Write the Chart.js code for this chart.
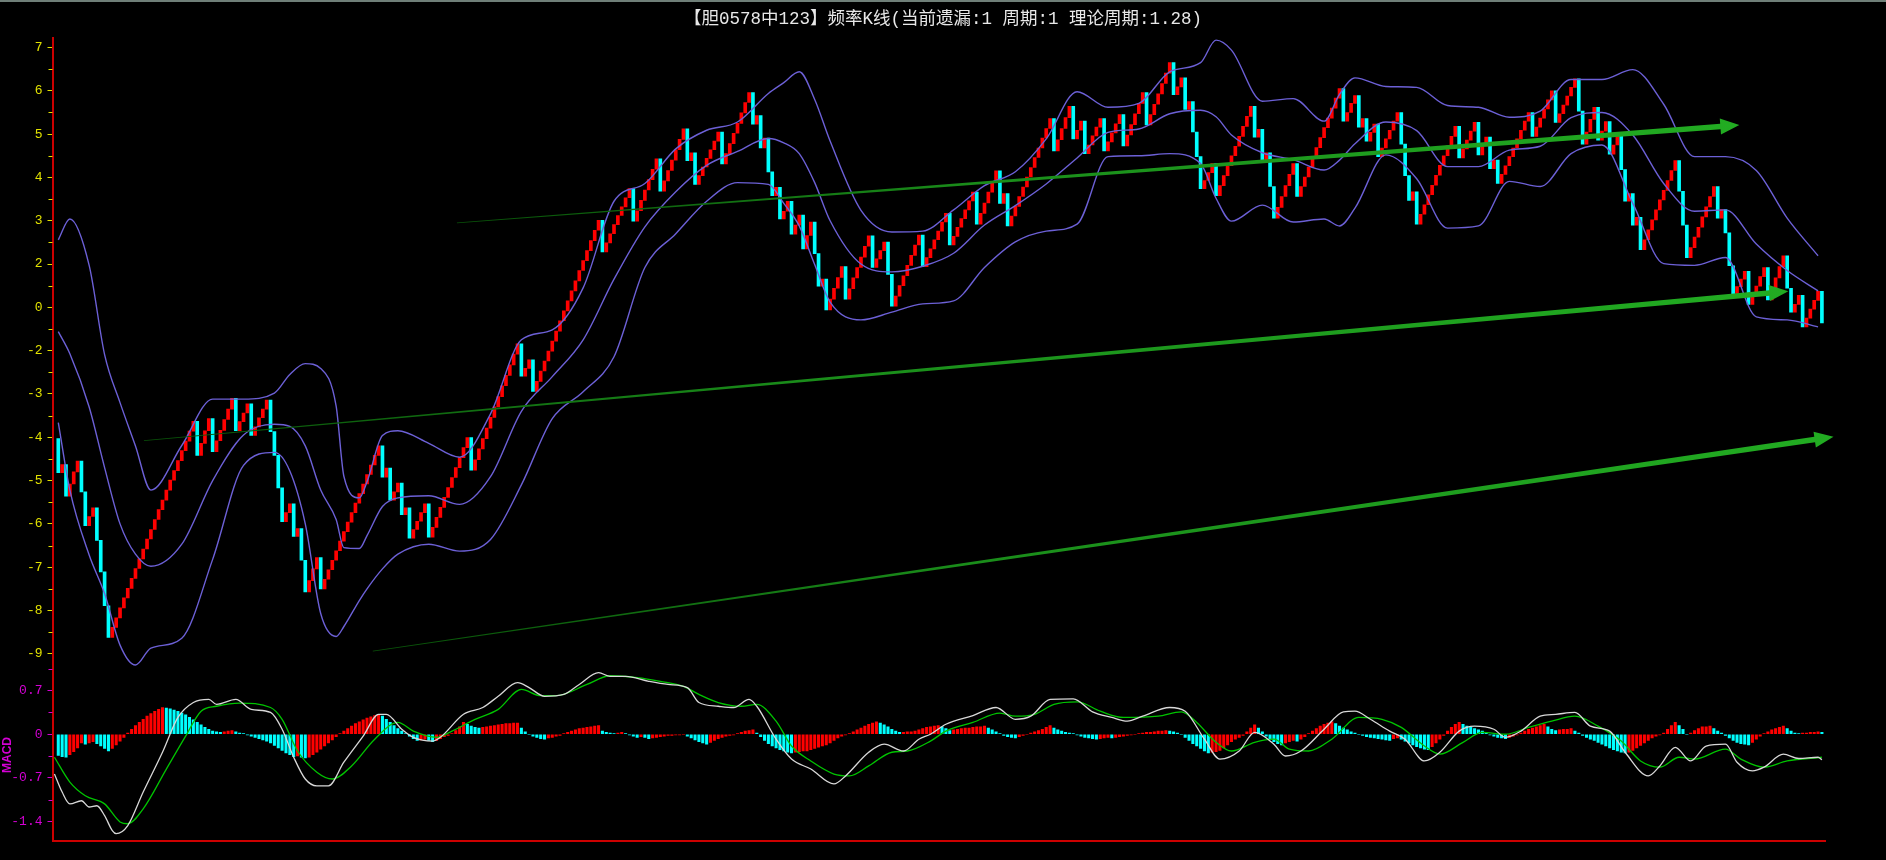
<!DOCTYPE html>
<html>
<head>
<meta charset="utf-8">
<script src="https://cdn.jsdelivr.net/npm/chart.js@4.4.1/dist/chart.umd.min.js"></script>
<style>
  html, body { margin: 0; padding: 0; background: #000; }
  #wrap { position: relative; width: 1886px; height: 860px; }
  #topline { position: absolute; left: 0; top: 0; width: 1886px; height: 2px; background: #6f7f78; }
</style>
</head>
<body>
<div id="wrap">
  <canvas id="kline" width="1886" height="860"></canvas>
  <div id="topline"></div>
</div>
<script>
// ---- data ----
const TITLE = "【胆0578中123】频率K线(当前遗漏:1 周期:1 理论周期:1.28)";
// main axis: tick at level -8 .. 6, labels as printed
const PRICE_TICK_LABELS = ["-9", "-8", "-7", "-6", "-5", "-4", "-3", "-2", "0", "2", "3", "4", "5", "6", "7"];
const MACD_TICK_LABELS = ["-1.4", "-0.7", "0", "0.7"];

// K-line: each bar opens at the previous close
const FIRST_OPEN = -3.03;
const closes = [
  -3.82, -3.63, -4.36, -4.08, -3.80, -3.55, -4.26, -5.04, -4.83, -4.63, -5.38, -6.11, -6.89, -7.62,
  -7.39, -7.17, -6.94, -6.71, -6.49, -6.26, -6.03, -5.81, -5.58, -5.35, -5.13, -4.90, -4.67, -4.45, -4.22, -3.99, -3.77, -3.54, -3.31, -3.09, -2.86, -2.63,
  -3.42, -3.14, -2.85, -2.57, -3.33,
  -3.08, -2.84, -2.59, -2.35, -2.10,
  -2.85, -2.64, -2.44, -2.23, -2.96,
  -2.76, -2.55, -2.35, -2.14, -2.87,
  -3.42, -4.17, -4.95, -4.74, -4.54,
  -5.29, -5.11, -5.84, -6.57, -6.31, -6.04, -5.78, -6.50,
  -6.28, -6.06, -5.84, -5.62, -5.40, -5.18, -4.96, -4.74, -4.52, -4.30, -4.08, -3.86, -3.64, -3.42, -3.20,
  -3.92, -3.71, -4.45, -4.26, -4.06, -4.79, -4.63, -5.33, -5.13, -4.94, -4.74, -4.54, -5.31,
  -5.08, -4.85, -4.62, -4.39, -4.16, -3.93, -3.70, -3.47, -3.24, -3.01,
  -3.76,
  -3.52, -3.27, -3.03, -2.79, -2.54, -2.30, -2.06, -1.81, -1.57, -1.33, -1.08, -0.84,
  -1.59, -1.41, -1.21, -1.94,
  -1.71, -1.47, -1.24, -1.01, -0.78, -0.55, -0.31, -0.08, 0.15, 0.38, 0.61, 0.85, 1.08, 1.31, 1.54, 1.78, 2.01,
  1.28,
  1.49, 1.70, 1.91, 2.12, 2.32, 2.53, 2.74,
  1.99,
  2.23, 2.47, 2.71, 2.95, 3.19, 3.43,
  2.68,
  2.92, 3.16, 3.40, 3.64, 3.88, 4.12,
  3.39, 3.57, 2.84,
  3.04, 3.24, 3.44, 3.64, 3.84, 4.05,
  3.31,
  3.55, 3.78, 4.02, 4.25, 4.49, 4.73, 4.96,
  4.23, 4.43, 3.68, 3.91, 3.13, 2.58, 2.77, 2.04, 2.22, 2.45, 1.69, 1.90, 2.13, 1.35, 1.66, 1.97, 1.24, 0.49, 0.65, -0.06,
  0.19, 0.44, 0.69, 0.94, 0.19,
  0.43, 0.68, 0.92, 1.16, 1.41, 1.65, 0.92,
  1.12, 1.31, 1.51, 0.76, 0.03,
  0.26, 0.50, 0.73, 0.97, 1.20, 1.44, 1.67, 0.94,
  1.15, 1.35, 1.56, 1.76, 1.97, 2.17, 1.44,
  1.64, 1.85, 2.05, 2.25, 2.46, 2.66, 1.92,
  2.17, 2.41, 2.66, 2.90, 3.15, 2.40, 2.63, 1.88,
  2.11, 2.33, 2.56, 2.78, 3.01, 3.23, 3.46, 3.68, 3.91, 4.13, 4.36, 3.61,
  3.87, 4.13, 4.38, 4.64, 3.89, 4.09, 4.30, 3.55,
  3.75, 3.96, 4.16, 4.36, 3.61,
  3.82, 4.03, 4.24, 4.45, 3.73,
  3.98, 4.22, 4.47, 4.71, 4.96, 4.21,
  4.45, 4.69, 4.93, 5.17, 5.41, 5.65, 4.91,
  5.09, 5.30, 4.57, 4.75, 4.05, 3.48, 2.74, 2.93, 3.11, 3.32, 2.58,
  2.81, 3.04, 3.27, 3.50, 3.72, 3.95, 4.18, 4.41, 4.64, 3.93,
  4.11, 3.38, 3.57, 2.79, 2.06,
  2.31, 2.56, 2.81, 3.07, 3.32, 2.56,
  2.79, 3.01, 3.24, 3.47, 3.69, 3.92, 4.15, 4.37, 4.60, 4.83, 5.05, 4.30,
  4.50, 4.71, 4.89, 4.16, 4.36, 3.84, 4.04, 4.23, 3.48,
  3.68, 3.89, 4.09, 4.30, 4.50, 3.77, 3.04, 2.47, 2.67, 1.92,
  2.15, 2.37, 2.60, 2.82, 3.05, 3.28, 3.50, 3.73, 3.95, 4.18, 3.45,
  3.66, 3.86, 4.07, 4.27, 3.52, 3.73, 3.93, 3.20, 3.40, 2.86,
  3.07, 3.27, 3.48, 3.68, 3.89, 4.09, 4.30, 4.50, 3.95,
  4.16, 4.37, 4.58, 4.79, 5.00, 4.27,
  4.47, 4.67, 4.88, 5.08, 5.28, 4.53, 3.77,
  4.05, 4.34, 4.62, 3.86, 4.07, 4.29, 3.54,
  3.75, 3.95, 3.18, 2.45, 2.63, 1.90, 2.08, 1.33,
  1.56, 1.79, 2.02, 2.25, 2.48, 2.70, 2.93, 3.16, 3.39, 2.68, 1.90, 1.15,
  1.38, 1.62, 1.85, 2.09, 2.32, 2.56, 2.79, 2.06, 2.26, 1.72, 0.96, 0.30,
  0.48, 0.65, 0.83, 0.07, 0.28, 0.49, 0.71, 0.92, 0.17,
  0.43, 0.68, 0.94, 1.19, 0.44, -0.11,
  0.07, 0.28, -0.45, -0.25, -0.04, 0.16, 0.37, -0.36
];

// Bollinger bands, sampled at these bar numbers
const bandIndex = [0, 3, 8, 12, 16, 20, 24, 32, 40, 48, 56, 60, 64, 68, 72, 74, 78, 80, 84, 88,
  96, 104, 112, 120, 128, 136, 144, 152, 160, 168, 176, 184, 188, 192, 196, 200,
  208, 216, 224, 232, 240, 248, 256, 264, 272, 280, 288, 296, 300, 304,
  312, 320, 328, 332, 336, 344, 352, 360, 368, 376, 384, 392, 400, 408, 416, 424, 432, 440, 448, 456];
const bandUpper = [1.56, 2.04, 0.97, -1.09, -2.2, -3.2, -4.22, -3.19, -2.12, -2.12, -1.98, -1.55, -1.3, -1.41, -2.28, -3.90, -4.40, -4.03, -2.96, -2.85,
  -3.14, -3.46, -2.46, -0.75, -0.52, 0.45, 2.45, 2.86, 3.66, 4.09, 4.28, 4.94, 5.19, 5.44, 4.80, 3.84,
  2.24, 1.74, 1.76, 2.25, 2.81, 3.13, 3.89, 4.98, 4.62, 4.71, 5.44, 5.65, 6.17, 5.94,
  4.76, 4.82, 4.30, 4.92, 5.30, 5.10, 5.08, 4.66, 4.62, 4.39, 4.53, 5.26, 5.26, 5.49, 4.69, 3.48, 3.48, 3.16, 2.06, 1.19];
const bandMiddle = [-0.56, -1.07, -2.3, -3.7, -5.0, -5.7, -5.98, -5.47, -4.0, -2.95, -2.7, -2.75, -3.2, -4.22, -4.9, -5.55, -5.57, -5.27, -4.6, -4.4,
  -4.35, -4.55, -3.91, -2.4, -1.6, -0.75, 0.65, 1.86, 2.67, 3.28, 3.6, 3.9, 3.8, 3.55, 2.88, 2.0,
  1.0, 0.82, 0.95, 1.25, 1.9, 2.35, 2.85, 3.45, 4.04, 4.12, 4.47, 4.55, 4.4, 3.98,
  3.57, 3.41, 3.17, 3.4, 3.78, 4.28, 4.08, 3.25, 3.25, 3.63, 3.72, 4.38, 4.5, 3.98, 2.86, 2.22, 2.25, 1.46, 0.85, 0.38];
const bandLower = [-2.66, -4.22, -5.72, -6.61, -7.8, -8.26, -7.87, -7.64, -5.82, -3.65, -3.35, -3.78, -5.0, -7.07, -7.60, -7.37, -6.77, -6.50, -6.04, -5.70,
  -5.47, -5.63, -5.36, -4.10, -2.57, -1.95, -1.14, 0.92, 1.70, 2.45, 2.88, 2.84, 2.40, 1.88, 0.99, 0.12,
  -0.29, -0.11, 0.08, 0.15, 0.92, 1.51, 1.76, 1.92, 3.48, 3.50, 3.55, 3.32, 2.52, 1.99,
  2.36, 1.97, 2.04, 1.88, 2.29, 3.52, 2.97, 1.83, 1.88, 2.91, 2.79, 3.55, 3.75, 2.40, 1.01, 0.97, 1.15, -0.22, -0.29, -0.45];

// MACD histogram, one value per bar
const macdHist = [
  -0.34, -0.36, -0.37, -0.33, -0.28, -0.22, -0.14, -0.16, -0.14, -0.12,
  -0.15, -0.19, -0.23, -0.27, -0.23, -0.17, -0.11, -0.05,
  0.02, 0.08, 0.14, 0.19, 0.24, 0.29, 0.33, 0.37, 0.40, 0.43,
  0.42, 0.41, 0.39, 0.37, 0.34, 0.31, 0.27, 0.23, 0.19, 0.15, 0.11, 0.08, 0.05,
  0.04, 0.03, 0.04, 0.05, 0.06, 0.04, 0.02, 0.01, -0.01,
  -0.03, -0.05, -0.07, -0.09, -0.11,
  -0.14, -0.18, -0.22, -0.26, -0.30, -0.33,
  -0.36, -0.35, -0.37, -0.38, -0.37,
  -0.33, -0.29, -0.24, -0.19, -0.14, -0.09, -0.04,
  0.01, 0.05, 0.09, 0.13, 0.17, 0.20, 0.23, 0.26, 0.28, 0.30, 0.32,
  0.29, 0.24, 0.19, 0.14, 0.09, 0.05, 0.01,
  -0.03, -0.07, -0.10, -0.09, -0.08, -0.10, -0.12, -0.10, -0.07,
  -0.04, -0.02, 0.01,
  0.06, 0.12, 0.19, 0.16, 0.13, 0.11, 0.10,
  0.11, 0.12, 0.13, 0.14, 0.15, 0.16, 0.17, 0.17, 0.18, 0.18,
  0.10, 0.04, 0.00,
  -0.03, -0.05, -0.07, -0.08,
  -0.06, -0.05, -0.03, -0.02,
  0.01, 0.03, 0.05, 0.07, 0.09, 0.10, 0.11, 0.12, 0.13, 0.14,
  0.05, 0.03, 0.02, 0.01, 0.02, 0.03, 0.01, -0.01,
  -0.03, -0.05, -0.04, -0.05, -0.07, -0.06, -0.05, -0.04,
  -0.03, -0.02, -0.02, -0.01, -0.01, 0.00,
  -0.03, -0.06, -0.09, -0.12, -0.14, -0.16,
  -0.13, -0.10, -0.07, -0.05, -0.03, -0.02, -0.01, 0.01, 0.03, 0.05,
  0.06, 0.07,
  0.02, -0.04, -0.10, -0.15, -0.19, -0.22, -0.25, -0.27, -0.29, -0.30,
  -0.29, -0.28, -0.27, -0.27, -0.25, -0.23, -0.21, -0.19, -0.17, -0.14, -0.10,
  -0.06, -0.03, -0.01, 0.01,
  0.04, 0.07, 0.10, 0.13, 0.16, 0.18, 0.20,
  0.18, 0.15, 0.12,
  0.08, 0.05, 0.03,
  0.03, 0.04, 0.04, 0.05,
  0.07, 0.09, 0.11,
  0.12, 0.13, 0.14,
  0.12, 0.09, 0.06,
  0.07, 0.08, 0.09, 0.10, 0.10, 0.11, 0.12, 0.12, 0.13,
  0.10, 0.07, 0.04,
  0.01, -0.02, -0.04, -0.05, -0.06,
  -0.04, -0.02, 0.00, 0.02, 0.04, 0.06, 0.08, 0.11, 0.14,
  0.10, 0.07, 0.05, 0.03, 0.02, 0.01,
  -0.01, -0.03, -0.05, -0.06, -0.07, -0.08, -0.07, -0.06,
  -0.05, -0.06, -0.05, -0.04, -0.03, -0.02, -0.01,
  0.00, 0.01, 0.02, 0.03, 0.03, 0.04, 0.05, 0.05, 0.06, 0.05, 0.04,
  0.02, 0.00,
  -0.05, -0.10, -0.15, -0.19, -0.23, -0.27, -0.30, -0.29, -0.28,
  -0.26, -0.22, -0.17, -0.12, -0.08, -0.05, -0.02,
  0.04, 0.10, 0.15, 0.10, 0.04,
  -0.03, -0.08, -0.12, -0.15, -0.17,
  -0.14, -0.12, -0.10, -0.11, -0.08, -0.04,
  0.01, 0.05, 0.09, 0.13, 0.16, 0.18, 0.20,
  0.17, 0.13, 0.10, 0.07, 0.04, 0.02, 0.00,
  -0.02, -0.04, -0.05, -0.06, -0.07, -0.08, -0.09, -0.10,
  -0.07, -0.06, -0.08,
  -0.11, -0.14, -0.17, -0.20, -0.22, -0.24, -0.25,
  -0.20, -0.14, -0.08, -0.02,
  0.05, 0.11, 0.16, 0.19,
  0.16, 0.13, 0.11, 0.09, 0.07, 0.05,
  0.02, -0.01, -0.03, -0.05, -0.06, -0.07,
  -0.05, -0.03, -0.01,
  0.02, 0.05, 0.08, 0.10, 0.12, 0.14, 0.16,
  0.12, 0.08, 0.06, 0.07, 0.08, 0.08, 0.09,
  0.05, 0.02, -0.02, -0.05, -0.08, -0.10, -0.13,
  -0.16, -0.19, -0.22, -0.25, -0.27, -0.29, -0.30,
  -0.29, -0.26, -0.22, -0.18, -0.14, -0.10, -0.06,
  -0.03, -0.01, 0.02,
  0.08, 0.14, 0.19,
  0.14, 0.08,
  0.00, 0.02,
  0.06, 0.09, 0.12, 0.12, 0.13,
  0.09, 0.05, 0.02,
  -0.02, -0.06, -0.10, -0.13, -0.15, -0.16, -0.17,
  -0.13, -0.08, -0.03,
  0.01, 0.04, 0.07, 0.09, 0.11, 0.13,
  0.09, 0.05, 0.02, 0.01,
  0.02, 0.02, 0.03, 0.03, 0.04, 0.03
];

// MACD lines (white DIF, green DEA), sampled at bar numbers
const difX = [-1, 1, 3, 6, 8, 10, 12, 14, 15, 18, 22, 27, 31, 35, 39, 41, 46, 50, 55, 58, 61, 64, 67, 70, 74, 79, 83, 85, 89, 92, 97, 99,
  105, 110, 114, 119, 122, 126, 131, 135, 140, 143, 147, 153, 158, 163, 166, 171, 175, 179, 181, 186, 190, 195, 201, 204, 210, 214, 219, 223,
  226, 230, 237, 243, 248, 252, 257, 263, 268, 273, 277, 281, 288, 292, 297, 301, 306, 310, 315, 318, 322, 328, 333, 336, 340, 345,
  349, 354, 358, 363, 367, 372, 375, 379, 384, 388, 393, 397, 402, 406, 412, 415, 419, 423, 427, 432, 435, 439, 442, 447, 451, 456, 457];
const difY = [-0.64, -0.93, -1.12, -1.07, -1.17, -1.15, -1.31, -1.55, -1.60, -1.47, -0.93, -0.29, 0.27, 0.51, 0.56, 0.48, 0.56, 0.40, 0.35, 0.08, -0.37, -0.72, -0.83, -0.83, -0.45, -0.03, 0.32, 0.32, 0.08, -0.05, -0.11, -0.05,
  0.32, 0.43, 0.61, 0.83, 0.75, 0.61, 0.64, 0.80, 0.99, 0.93, 0.93, 0.85, 0.80, 0.75, 0.51, 0.45, 0.43, 0.56, 0.45, -0.08, -0.40, -0.56, -0.80, -0.67, -0.29, -0.16, -0.27, -0.08,
  0.00, 0.16, 0.30, 0.43, 0.24, 0.29, 0.56, 0.57, 0.36, 0.27, 0.21, 0.29, 0.43, 0.37, -0.08, -0.40, -0.27, 0.03, -0.16, -0.35, -0.27, 0.08, 0.36, 0.37, 0.24, 0.05,
  -0.08, -0.43, -0.29, 0.05, 0.13, 0.08, -0.05, 0.05, 0.29, 0.32, 0.35, 0.13, 0.05, -0.29, -0.67, -0.51, -0.21, -0.43, -0.19, -0.16, -0.45, -0.59, -0.53, -0.32, -0.39, -0.37, -0.41];
const deaX = [-1, 3, 7, 12, 16, 18, 22, 28, 33, 37, 41, 47, 55, 58, 62, 67, 71, 76, 82, 88, 92, 98, 102, 108, 114, 120, 125, 129, 137, 143,
  150, 156, 162, 166, 171, 177, 181, 186, 190, 195, 201, 205, 210, 216, 220, 226, 230, 237, 244, 248, 253, 258, 264, 270, 276, 285, 291, 295,
  300, 304, 310, 315, 319, 324, 330, 337, 343, 348, 354, 358, 364, 369, 375, 381, 387, 393, 399, 405, 410, 415, 420, 424, 432, 436, 442, 448, 457];
const deaY = [-0.37, -0.77, -0.99, -1.12, -1.41, -1.44, -1.20, -0.56, -0.03, 0.37, 0.45, 0.50, 0.43, 0.24, -0.27, -0.61, -0.72, -0.51, -0.08, 0.19, 0.05, -0.05, 0.05, 0.24, 0.40, 0.72, 0.62, 0.62, 0.80, 0.94,
  0.91, 0.85, 0.77, 0.64, 0.51, 0.45, 0.48, 0.21, -0.19, -0.43, -0.64, -0.67, -0.51, -0.29, -0.27, -0.11, 0.05, 0.19, 0.34, 0.29, 0.32, 0.48, 0.52, 0.37, 0.27, 0.29, 0.36, 0.19,
  -0.13, -0.27, -0.13, -0.08, -0.24, -0.27, -0.08, 0.27, 0.24, 0.11, -0.19, -0.32, -0.13, 0.03, 0.00, 0.11, 0.21, 0.29, 0.13, -0.11, -0.43, -0.53, -0.37, -0.40, -0.24, -0.40, -0.53, -0.43, -0.37];

// green trend arrows: [bar, level] at the thin end and at the tip
const trendStart = [[103.3, 1.95], [22.2, -3.08], [81.5, -7.94]];
const trendEnd = [[435.6, 4.21], [448.3, 0.37], [460.0, -2.99]];

// ---- chart ----
const RED = '#ff0000';
const CYAN = '#00ffff';
const YELLOW = '#e2e200';
const MAGENTA = '#d400d4';
const AXIS_RED = '#cc0000';
const BAND = 'rgb(108,96,214)';

const candleRows = closes.map((c, i) => ({ x: i, y: [i === 0 ? FIRST_OPEN : closes[i - 1], c] }));
const histRows = macdHist.map((v, i) => ({ x: i, y: v }));
const toPoints = (xs, ys) => xs.map((x, k) => ({ x: x, y: ys[k] }));

function lineSet(points, color, axis, width) {
  return {
    type: 'line', data: points, yAxisID: axis, borderColor: color, borderWidth: width,
    pointRadius: 0, cubicInterpolationMode: 'monotone', fill: false, order: 1
  };
}

const titlePlugin = {
  id: 'panelTitle',
  afterDraw(chart) {
    const ctx = chart.ctx;
    ctx.save();
    ctx.font = '17.5px "Liberation Mono", "Noto Sans CJK SC", monospace';
    ctx.fillStyle = '#e8e8e8';
    ctx.textAlign = 'center';
    ctx.textBaseline = 'middle';
    ctx.fillText(TITLE, chart.width / 2, 19);
    ctx.restore();
  }
};

// short ticks halfway between the labelled ones
const minorTicks = {
  id: 'minorTicks',
  afterDraw(chart) {
    const ctx = chart.ctx;
    ctx.save();
    ctx.lineWidth = 1;
    for (const [id, color] of [['y', YELLOW], ['macd', MAGENTA]]) {
      const s = chart.scales[id];
      const t = s.ticks.map(k => k.value);
      const step = t[1] - t[0];
      ctx.strokeStyle = color;
      for (const v of t.concat([t[0] - step])) {
        const m = v + step / 2;
        if (m < s.min - 1e-6 || m > s.max + 1e-6) continue;
        const py = Math.round(s.getPixelForValue(m)) + 0.5;
        ctx.beginPath();
        ctx.moveTo(s.right - 4, py);
        ctx.lineTo(s.right, py);
        ctx.stroke();
      }
    }
    ctx.restore();
  }
};

const trendArrows = {
  id: 'trendArrows',
  afterDatasetsDraw(chart) {
    const ctx = chart.ctx;
    const xs = chart.scales.x, ys = chart.scales.y;
    ctx.save();
    trendStart.forEach((a, k) => {
      const b = trendEnd[k];
      const x0 = xs.getPixelForValue(a[0]), y0 = ys.getPixelForValue(a[1]);
      const x1 = xs.getPixelForValue(b[0]), y1 = ys.getPixelForValue(b[1]);
      const len = Math.hypot(x1 - x0, y1 - y0);
      const ux = (x1 - x0) / len, uy = (y1 - y0) / len;
      const nx = -uy, ny = ux;
      const head = 19, half = 8, w0 = 0.8, w1 = 5.5;
      const bx = x1 - ux * head, by = y1 - uy * head;
      const g = ctx.createLinearGradient(x0, y0, x1, y1);
      g.addColorStop(0, 'rgb(8,80,8)');
      g.addColorStop(0.4, 'rgb(26,140,26)');
      g.addColorStop(1, 'rgb(34,172,34)');
      ctx.fillStyle = g;
      ctx.beginPath();
      ctx.moveTo(x0 + nx * w0 / 2, y0 + ny * w0 / 2);
      ctx.lineTo(bx + nx * w1 / 2, by + ny * w1 / 2);
      ctx.lineTo(bx + nx * half, by + ny * half);
      ctx.lineTo(x1, y1);
      ctx.lineTo(bx - nx * half, by - ny * half);
      ctx.lineTo(bx - nx * w1 / 2, by - ny * w1 / 2);
      ctx.lineTo(x0 - nx * w0 / 2, y0 - ny * w0 / 2);
      ctx.closePath();
      ctx.fill();
    });
    ctx.restore();
  }
};

const tickFont = { family: 'Liberation Mono', size: 13 };

new Chart(document.getElementById('kline'), {
  type: 'bar',
  data: {
    datasets: [
      lineSet(toPoints(bandIndex, bandUpper), BAND, 'y', 1.4),
      lineSet(toPoints(bandIndex, bandMiddle), BAND, 'y', 1.4),
      lineSet(toPoints(bandIndex, bandLower), BAND, 'y', 1.4),
      {
        type: 'bar', data: candleRows, yAxisID: 'y', grouped: false, barThickness: 3, order: 2,
        backgroundColor: c => (c.raw && c.raw.y[1] >= c.raw.y[0]) ? RED : CYAN
      },
      lineSet(toPoints(difX, difY), '#d8d8d8', 'macd', 1.3),
      lineSet(toPoints(deaX, deaY), '#00c400', 'macd', 1.3),
      {
        type: 'bar', data: histRows, yAxisID: 'macd', grouped: false, barThickness: 2.4, order: 2,
        backgroundColor: c => (c.dataIndex === 0 || macdHist[c.dataIndex] < macdHist[c.dataIndex - 1]) ? CYAN : RED
      }
    ]
  },
  options: {
    responsive: false,
    animation: false,
    events: [],
    layout: { padding: { top: 38, right: 61, bottom: 11, left: 0 } },
    plugins: { legend: { display: false }, tooltip: { enabled: false }, title: { display: false } },
    scales: {
      x: {
        type: 'linear', min: -1.5, max: 457.8, offset: false,
        ticks: { display: false },
        grid: { display: false, offset: false },
        border: { display: true, color: AXIS_RED, width: 2 }
      },
      macd: {
        type: 'linear', position: 'left', stack: 'panels', stackWeight: 174,
        min: -1.717, max: 1.05,
        ticks: {
          stepSize: 0.7, includeBounds: false, color: MAGENTA, font: tickFont, padding: 5,
          callback: v => MACD_TICK_LABELS[Math.round(v / 0.7) + 2]
        },
        title: { display: true, text: 'MACD', color: MAGENTA, font: { family: 'Liberation Sans', size: 12, weight: 'bold' }, padding: 0 },
        grid: { drawOnChartArea: false, tickLength: 5, tickColor: MAGENTA, tickWidth: 1 },
        border: { color: AXIS_RED, width: 2 },
        afterFit: s => { s.width = 52.5; }
      },
      y: {
        type: 'linear', position: 'left', stack: 'panels', stackWeight: 638,
        min: -8.35, max: 6.22,
        ticks: {
          stepSize: 1, includeBounds: false, color: YELLOW, font: tickFont, padding: 5,
          callback: v => PRICE_TICK_LABELS[Math.round(v) + 8]
        },
        grid: { drawOnChartArea: false, tickLength: 5, tickColor: YELLOW, tickWidth: 1 },
        border: { color: AXIS_RED, width: 2 },
        afterFit: s => { s.width = 52.5; }
      }
    }
  },
  plugins: [trendArrows, minorTicks, titlePlugin]
});
</script>
</body>
</html>
